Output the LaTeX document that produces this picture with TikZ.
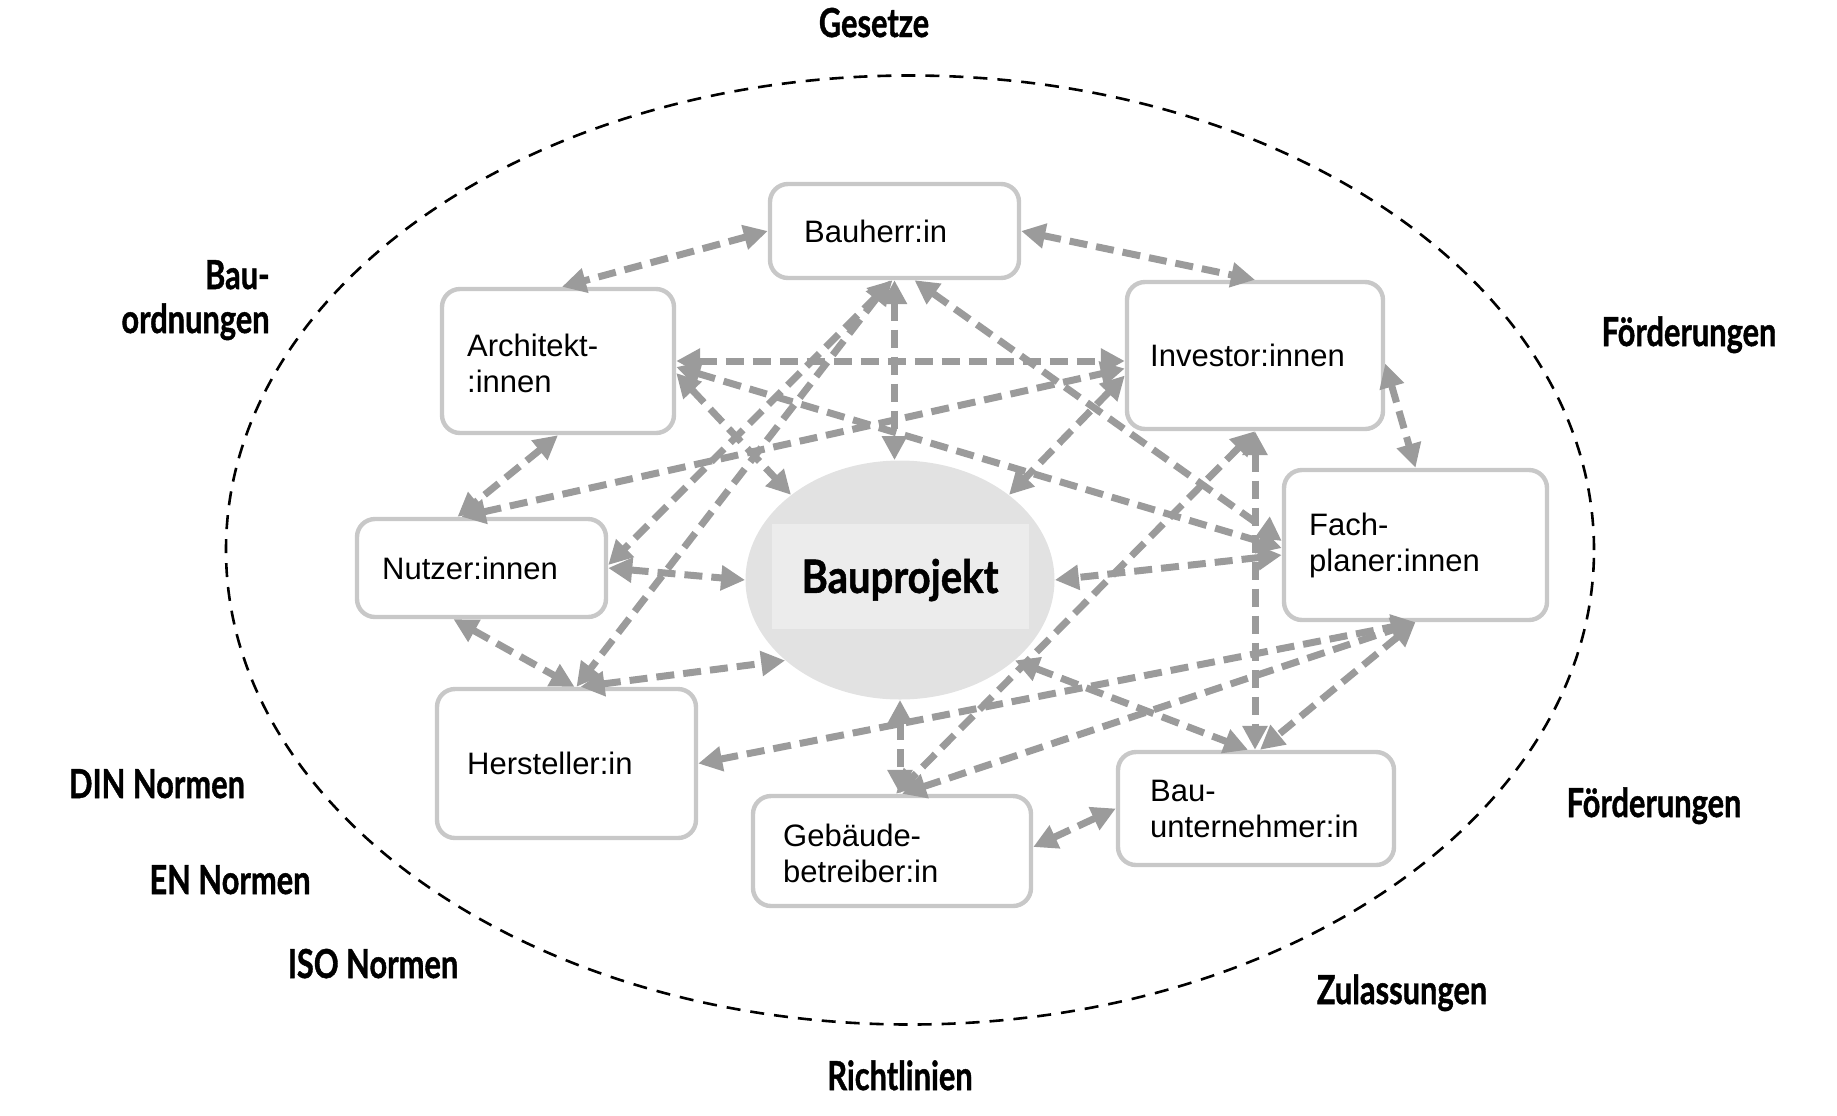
\documentclass[tikz,border=0pt]{standalone}
\usepackage{fontspec}
\usepackage{graphicx}
\setmainfont{Liberation Sans}
\newfontfamily\latofont{Lato}[BoldFeatures={FakeBold=1.2}]
\usetikzlibrary{arrows.meta,shapes.geometric}
\definecolor{arrgray}{RGB}{155,155,155}
\definecolor{boxline}{RGB}{200,200,200}
\definecolor{bpfill}{RGB}{226,226,226}
\definecolor{bpinner}{RGB}{236,236,236}
\newcommand{\hsq}[1]{\scalebox{0.77}[1]{#1}}
\begin{document}
\begin{tikzpicture}[x=0.5pt,y=-0.5pt,
  box/.style={draw=boxline, line width=2.2pt, rounded corners=9pt, fill=white, inner sep=0pt},
  btxt/.style={font=\fontsize{15.5}{18}\selectfont, align=left, inner sep=0pt, anchor=west},
  lab/.style={font=\latofont\bfseries\fontsize{20}{22}\selectfont, anchor=base, inner sep=0pt},
  conn/.style={draw=arrgray, line width=3.5pt, dash pattern=on 9pt off 4.5pt,
    {Triangle[length=12pt,width=12pt]}-{Triangle[length=12pt,width=12pt]}},
  outer/.style={draw=black, line width=1.3pt, dash pattern=on 7pt off 5pt}]
\useasboundingbox (0,0) rectangle (1837,1115);

% outer dashed ellipse
\draw[outer] (910,550) ellipse [x radius=342pt, y radius=237.25pt];

% outer labels
\node[lab] (gesetze) at (874,37) {\hsq{Gesetze}};
\node[lab, anchor=base east, align=right] (bauord) at (270,333) {\hsq{Bau-}\\\hsq{ordnungen}};
\node[lab] (foerd1) at (1689,346) {\hsq{Förderungen}};
\node[lab] (foerd2) at (1654,817) {\hsq{Förderungen}};
\node[lab] (din) at (157,798) {\hsq{DIN Normen}};
\node[lab] (en) at (230,894) {\hsq{EN Normen}};
\node[lab] (iso) at (373,978) {\hsq{ISO Normen}};
\node[lab] (zul) at (1402,1004) {\hsq{Zulassungen}};
\node[lab] (richt) at (900,1090) {\hsq{Richtlinien}};

% Bauprojekt
\node[ellipse, fill=bpfill, minimum width=154.5pt, minimum height=119.5pt, inner sep=0pt] (bp) at (900,580) {};
\node[fill=bpinner, minimum width=128.5pt, minimum height=52.5pt, inner sep=0pt] (bpin) at (900,576) {};
\node[font=\latofont\bfseries\fontsize{23}{27}\selectfont, inner sep=0pt] (bptext) at (900,580) {\scalebox{0.87}[1]{Bauprojekt}};

% actor boxes (geometry)
\node[box, minimum width=124.5pt, minimum height=47pt] (bh) at (894.5,231) {};
\node[box, minimum width=116pt, minimum height=72pt] (ar) at (558,361) {};
\node[box, minimum width=128pt, minimum height=73.5pt] (iv) at (1255,355.5) {};
\node[box, minimum width=124.5pt, minimum height=49pt] (nu) at (481.5,568) {};
\node[box, minimum width=131.5pt, minimum height=75pt] (fp) at (1415.5,545) {};
\node[box, minimum width=129.5pt, minimum height=74.5pt] (hs) at (566.5,763.5) {};
\node[box, minimum width=139pt, minimum height=55pt] (gb) at (892,851) {};
\node[box, minimum width=138pt, minimum height=56.5pt] (bu) at (1256,808.5) {};

% connectors
\draw[conn] (bh.west) -- ([xshift=2pt]ar.north);
\draw[conn] (bh.east) -- (iv.north);
\draw[conn] (bh.south) -- (bh.south |- bp.north);
\draw[conn] ([xshift=-1pt]bh.south) -- ([yshift=1.5pt]nu.east);
\draw[conn] ([xshift=-2pt]bh.south) -- ([xshift=5pt]hs.north);
\draw[conn] ([xshift=10pt]bh.south) -- ([yshift=2pt]fp.west);
\draw[conn] (ar.east) -- ([yshift=-2.75pt]iv.west);
\draw[conn] ([yshift=-6pt]ar.east) -- (bp.142);
\draw[conn] ([yshift=-3pt]ar.east) -- ([yshift=-1.5pt]fp.west);
\draw[conn] (ar.south) -- ([xshift=-12pt]nu.north);
\draw[conn] ([xshift=-10pt]nu.north) -- ([yshift=-6.5pt]iv.west);
\draw[conn] ([yshift=-10pt]iv.west) -- (bp.38);
\draw[conn] ([yshift=-4pt]iv.east) -- (fp.north);
\draw[conn] (nu.east) -- (bp.west);
\draw[conn] ([xshift=-14pt]nu.south) -- ([xshift=4pt]hs.north);
\draw[conn] ([xshift=7pt]hs.north) -- (bp.215);
\draw[conn] ([yshift=-5pt]fp.west) -- (bp.east);
\draw[conn] (iv.south) -- (iv.south |- bu.north);
\draw[conn] (iv.south) -- ([xshift=2pt]gb.north);
\draw[conn] (hs.east) -- (fp.south);
\draw[conn] ([xshift=5pt]gb.north) -- (fp.south);
\draw[conn] (fp.south) -- ([xshift=2pt]bu.north);
\draw[conn] (bp.-35) -- ([xshift=-4pt]bu.north);
\draw[conn] (bp.south) -- (bp.south |- gb.north);
\draw[conn] ([yshift=2pt]gb.east) -- (bu.west);

% box texts
\node[btxt] (bht) at ([xshift=18pt]bh.west) {Bauherr:in};
\node[btxt] (art) at ([xshift=13.5pt,yshift=-1pt]ar.west) {Architekt-\\:innen};
\node[btxt] (ivt) at ([xshift=12.5pt]iv.west) {Investor:innen};
\node[btxt] (nut) at ([xshift=13.5pt]nu.west) {Nutzer:innen};
\node[btxt] (fpt) at ([xshift=13.5pt]fp.west) {Fach-\\planer:innen};
\node[btxt] (hst) at ([xshift=16pt]hs.west) {Hersteller:in};
\node[btxt] (gbt) at ([xshift=16pt,yshift=-1pt]gb.west) {Gebäude-\\betreiber:in};
\node[btxt] (but) at ([xshift=17pt]bu.west) {Bau-\\unternehmer:in};
\end{tikzpicture}
\end{document}
